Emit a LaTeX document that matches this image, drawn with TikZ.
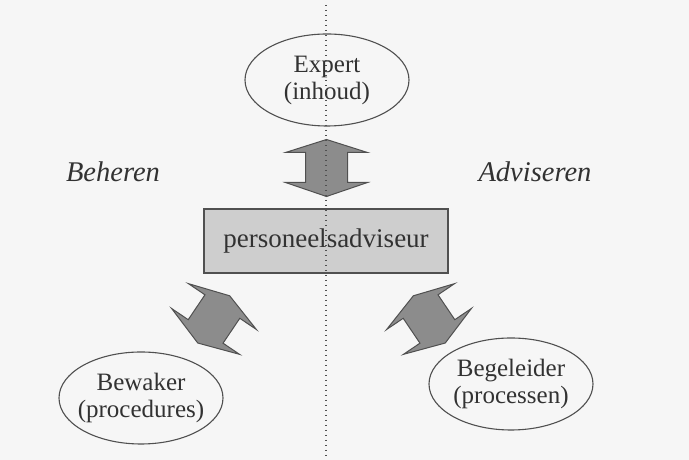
\documentclass[tikz,border=0pt]{standalone}
\usepackage{fontspec}
\setmainfont{Liberation Serif}
\usetikzlibrary{shapes.geometric,calc}
\definecolor{inkgray}{RGB}{50,50,50}
\definecolor{linegray}{RGB}{80,80,80}
\definecolor{boxgray}{RGB}{206,206,206}
\definecolor{arrowgray}{RGB}{140,140,140}
\definecolor{paper}{RGB}{246,246,246}

\begin{document}
\begin{tikzpicture}[x=1pt,y=1pt,
    role/.style={ellipse, draw=linegray, line width=1.1pt,
      minimum width=164pt, minimum height=92pt, inner sep=0pt,
      label={[text=inkgray, align=center, font=\fontsize{25}{27}\selectfont]center:{#1}}},
    advbox/.style={rectangle, draw=linegray, line width=1.1pt, fill=boxgray,
      text=inkgray, minimum width=244pt, minimum height=64pt,
      font=\fontsize{27}{30}\selectfont},
    side/.style={text=inkgray, font=\fontsize{28.5}{32}\selectfont\itshape},
    divider/.style={draw=linegray, line width=1.4pt, dash pattern=on 1.5pt off 3.5pt},
    fatarrow/.pic={
      \filldraw[fill=arrowgray, draw=linegray, line width=1pt, line join=miter]
        (0,28) -- (-41,15) -- (-21,15) -- (-21,-15) -- (-41,-15) -- (0,-29)
        -- (41,-15) -- (21,-15) -- (21,15) -- (41,15) -- cycle;
    }
  ]
  \fill[paper] (0,0) rectangle (689,460);
  \useasboundingbox (0,0) rectangle (689,460);

  % the four roles
  \node[role={Expert\\(inhoud)}] (expert) at (327,380) {};
  \node[advbox] (adv) at (326,219) {personeelsadviseur};
  \node[role={Bewaker\\(procedures)}] (bewaker) at (141,62) {};
  \node[role={Begeleider\\(processen)}] (begeleider) at (511,76) {};

  \node[side] (beheren) at (113,288) {Beheren};
  \node[side] (adviseren) at (535,288) {Adviseren};

  % fat double arrows
  \pic at ($(expert.south)!0.5!(adv.north)$) {fatarrow};
  \pic[rotate=-34] at (214,141) {fatarrow};
  \pic[rotate=34] at (429,141) {fatarrow};

  % dotted middle line
  \coordinate (top) at (326,455);
  \coordinate (bottom) at (326,0);
  \draw[divider] (top) -- (bottom);
\end{tikzpicture}
\end{document}
